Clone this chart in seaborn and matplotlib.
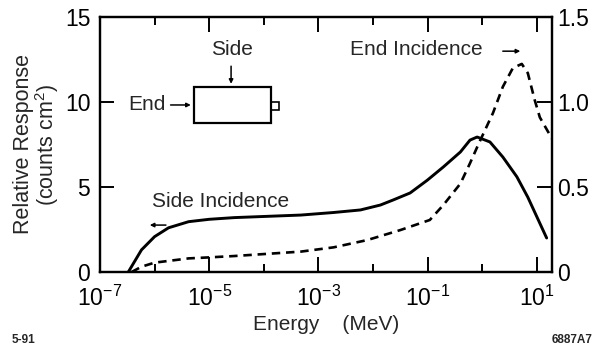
import matplotlib
matplotlib.use("Agg")
import matplotlib.pyplot as plt
import seaborn as sns
import pandas as pd
from matplotlib.patches import Rectangle
from matplotlib.ticker import FixedLocator, FixedFormatter, NullFormatter

# ---- data ----
side_energy = [3.3e-7, 5.75e-7, 1.0e-6, 1.8e-6, 4.2e-6, 1.0e-5, 2.9e-5, 4.8e-4,
               1.9e-3, 5.9e-3, 0.0137, 0.0236, 0.048, 0.099, 0.195, 0.40, 0.60,
               0.81, 1.39, 2.40, 4.33, 6.87, 15.2]
side_response = [0.0, 1.3, 2.08, 2.6, 2.96, 3.1, 3.2, 3.35,
                 3.5, 3.65, 3.94, 4.24, 4.65, 5.4, 6.18, 7.06, 7.76,
                 7.94, 7.65, 6.76, 5.6, 4.4, 2.0]

end_energy = [3.8e-7, 5.75e-7, 1.0e-6, 4.2e-6, 1.0e-5, 2.9e-5, 4.8e-4, 1.9e-3,
              7.9e-3, 0.032, 0.11, 0.195, 0.40, 0.60, 0.88, 1.58, 2.40, 3.66,
              5.33, 6.87, 9.22, 11.4, 19.0]
end_response = [0.0, 0.031, 0.055, 0.080, 0.086, 0.094, 0.12, 0.145,
                0.188, 0.247, 0.306, 0.394, 0.52, 0.64, 0.76, 0.935, 1.09, 1.20,
                1.224, 1.17, 1.01, 0.91, 0.785]

left_ticks = [0, 5, 10, 15]
right_ticks = [0, 0.5, 1.0, 1.5]
right_tick_labels = ["0", "0.5", "1.0", "1.5"]
x_major = [1e-7, 1e-5, 1e-3, 1e-1, 1e1]
x_major_labels = ["$10^{-7}$", "$10^{-5}$", "$10^{-3}$", "$10^{-1}$", "$10^{1}$"]
x_minor = [1e-6, 1e-4, 1e-2, 1e0]

side_df = pd.DataFrame({"Energy": side_energy, "Response": side_response})
end_df = pd.DataFrame({"Energy": end_energy, "Response": end_response})

sns.set_style("ticks")
plt.rcParams["font.family"] = ["Liberation Sans", "DejaVu Sans"]
plt.rcParams["mathtext.fontset"] = "custom"
plt.rcParams["mathtext.rm"] = "Liberation Sans"
plt.rcParams["mathtext.it"] = "Liberation Sans"
plt.rcParams["mathtext.bf"] = "Liberation Sans:bold"

fig = plt.figure(figsize=(6.05, 3.47), dpi=100)
ax = fig.add_axes([100/605, 1-272/347, 452/605, 255/347])
ax2 = ax.twinx()

sns.lineplot(data=side_df, x="Energy", y="Response", ax=ax, color="black",
             linewidth=2.1, estimator=None)
sns.lineplot(data=end_df, x="Energy", y="Response", ax=ax2, color="black",
             linewidth=1.9, estimator=None, linestyle=(0, (3.2, 2.2)))

ax.set_xscale("log")
ax.set_xlim(1e-7, 10**1.28)
ax.set_ylim(0, 15)
ax2.set_ylim(0, 1.5)

ax.xaxis.set_major_locator(FixedLocator(x_major))
ax.xaxis.set_major_formatter(FixedFormatter(x_major_labels))
ax.xaxis.set_minor_locator(FixedLocator(x_minor))
ax.xaxis.set_minor_formatter(NullFormatter())
ax.set_yticks(left_ticks)
ax.set_yticklabels([str(t) for t in left_ticks])
ax2.set_yticks(right_ticks)
ax2.set_yticklabels(right_tick_labels)

for a in (ax, ax2):
    for s in a.spines.values():
        s.set_linewidth(1.6)
        s.set_color("black")
        s.set_visible(True)

ax.tick_params(axis="x", which="major", direction="in", length=11, width=1.4,
               top=True, labelsize=16.5, pad=10, colors="black")
ax.tick_params(axis="x", which="minor", direction="in", length=6, width=1.4,
               top=True, colors="black")
ax.tick_params(axis="y", which="major", direction="in", length=10, width=1.4,
               labelsize=16.5, pad=7, colors="black")
ax2.tick_params(axis="y", which="major", direction="in", length=11, width=1.4,
                labelsize=16.5, pad=4, colors="black")

ax.set_xlabel("Energy    (MeV)", fontsize=15, labelpad=3)
ax.set_ylabel("Relative Response\n(counts cm$^2$)", fontsize=15.5, labelpad=3,
              linespacing=0.95)
ax2.set_ylabel("")

# annotations
ax.text(0.553, 0.871, "End Incidence", transform=ax.transAxes, fontsize=15,
        va="center", ha="left")
ax.annotate("", xy=(0.936, 0.866), xytext=(0.885, 0.866), xycoords="axes fraction",
            arrowprops=dict(arrowstyle="-|>", color="black", lw=1.1,
                            mutation_scale=6))
ax.text(0.115, 0.275, "Side Incidence", transform=ax.transAxes, fontsize=15,
        va="center", ha="left")
ax.annotate("", xy=(0.104, 0.184), xytext=(0.152, 0.184), xycoords="axes fraction",
            arrowprops=dict(arrowstyle="-|>", color="black", lw=1.1,
                            mutation_scale=6))

# detector diagram
ax.add_patch(Rectangle((0.208, 0.584), 0.170, 0.141, transform=ax.transAxes,
                       fill=False, edgecolor="black", lw=1.6))
ax.add_patch(Rectangle((0.378, 0.635), 0.018, 0.032, transform=ax.transAxes,
                       fill=False, edgecolor="black", lw=1.2))
ax.text(0.292, 0.873, "Side", transform=ax.transAxes, fontsize=15,
        va="center", ha="center")
ax.annotate("", xy=(0.290, 0.727), xytext=(0.290, 0.818), xycoords="axes fraction",
            arrowprops=dict(arrowstyle="-|>", color="black", lw=1.1,
                            mutation_scale=6))
ax.text(0.104, 0.657, "End", transform=ax.transAxes, fontsize=15,
        va="center", ha="center")
ax.annotate("", xy=(0.207, 0.655), xytext=(0.150, 0.655), xycoords="axes fraction",
            arrowprops=dict(arrowstyle="-|>", color="black", lw=1.1,
                            mutation_scale=6))

fig.text(12/605, 1-340/347, "5-91", fontsize=8.5, fontweight="bold", va="center",
         ha="left")
fig.text(593/605, 1-340/347, "6887A7", fontsize=8.5, fontweight="bold", va="center",
         ha="right")

fig.savefig("out.png", dpi=100)
